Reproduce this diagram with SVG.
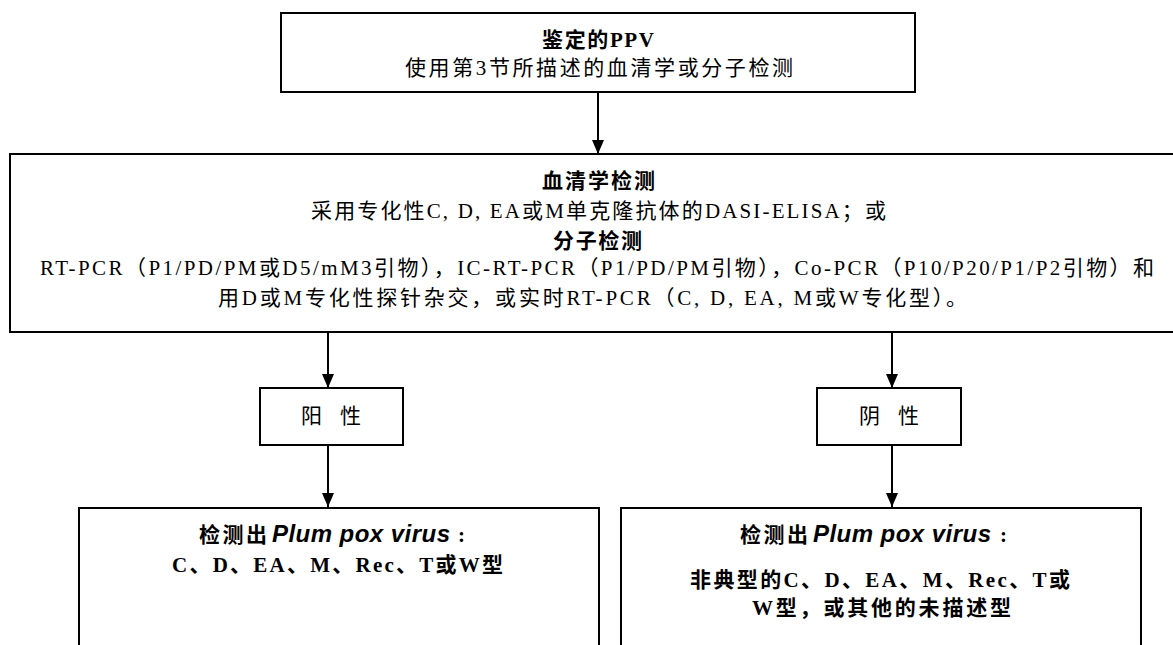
<svg xmlns="http://www.w3.org/2000/svg" width="1173" height="645" viewBox="0 0 1173 645">
<style>
.box{fill:#fff;stroke:#000;stroke-width:2}
.t{font-family:"Liberation Serif","Noto Sans CJK SC",serif;fill:#000;font-size:21px}
.b{font-weight:bold}
.lat{font-family:"Liberation Sans",Arial,sans-serif;font-weight:bold;font-style:italic;font-size:24px}
.conn{stroke:#000;stroke-width:2;fill:none;marker-end:url(#arr)}
</style>
<defs>
<marker id="arr" viewBox="0 0 14 12" markerWidth="14" markerHeight="12" refX="14" refY="6" orient="auto" markerUnits="userSpaceOnUse">
<path d="M0,0 L14,6 L0,12 z" fill="#000"/>
</marker>
</defs>
<rect width="1173" height="645" fill="#fff"/>
<g id="connectors">
<line class="conn" x1="598" y1="93" x2="598" y2="154"/>
<line class="conn" x1="328" y1="333" x2="328" y2="388"/>
<line class="conn" x1="328" y1="445" x2="328" y2="507"/>
<line class="conn" x1="892" y1="333" x2="892" y2="388"/>
<line class="conn" x1="892" y1="445" x2="892" y2="507"/>
</g>
<g id="n-identified">
<rect class="box" x="281" y="13" width="634" height="79"/>
<text class="t b" x="542" y="47" textLength="112" lengthAdjust="spacing">鉴定的PPV</text>
<text class="t" x="405" y="75" textLength="388" lengthAdjust="spacing">使用第3节所描述的血清学或分子检测</text>
</g>
<g id="n-tests">
<rect class="box" x="10" y="154" width="1180" height="178"/>
<text class="t b" x="542" y="188" textLength="113" lengthAdjust="spacing">血清学检测</text>
<text class="t" x="311" y="218" textLength="575" lengthAdjust="spacing">采用专化性C, D, EA或M单克隆抗体的DASI-ELISA；或</text>
<text class="t b" x="553" y="248" textLength="89" lengthAdjust="spacing">分子检测</text>
<text class="t" x="40" y="275" textLength="1114" lengthAdjust="spacing">RT-PCR（P1/PD/PM或D5/mM3引物），IC-RT-PCR（P1/PD/PM引物），Co-PCR（P10/P20/P1/P2引物）和</text>
<text class="t" x="218" y="305" textLength="749" lengthAdjust="spacing">用D或M专化性探针杂交，或实时RT-PCR（C, D, EA, M或W专化型）。</text>
</g>
<g id="n-positive">
<rect class="box" x="260" y="388" width="143" height="57"/>
<text class="t" x="301" y="423" textLength="60" lengthAdjust="spacing">阳 性</text>
</g>
<g id="n-negative">
<rect class="box" x="817" y="388" width="144" height="57"/>
<text class="t" x="859" y="423" textLength="60" lengthAdjust="spacing">阴 性</text>
</g>
<g id="n-detected-typical">
<rect class="box" x="79" y="508" width="520" height="160"/>
<text class="t b" x="199" y="542" textLength="68" lengthAdjust="spacing">检测出</text>
<text class="lat" x="272" y="542" textLength="178" lengthAdjust="spacing">Plum pox virus</text>
<text class="t b" x="458" y="542">:</text>
<text class="t b" x="172" y="572" font-size="22" textLength="331" lengthAdjust="spacing">C、D、EA、M、Rec、T或W型</text>
</g>
<g id="n-detected-atypical">
<rect class="box" x="621" y="508" width="520" height="160"/>
<text class="t b" x="740" y="542" textLength="68" lengthAdjust="spacing">检测出</text>
<text class="lat" x="813" y="542" textLength="178" lengthAdjust="spacing">Plum pox virus</text>
<text class="t b" x="1000" y="542">:</text>
<text class="t b" x="690" y="587" font-size="22" textLength="380" lengthAdjust="spacing">非典型的C、D、EA、M、Rec、T或</text>
<text class="t b" x="752" y="615" font-size="22" textLength="259" lengthAdjust="spacing">W型，或其他的未描述型</text>
</g>
</svg>
